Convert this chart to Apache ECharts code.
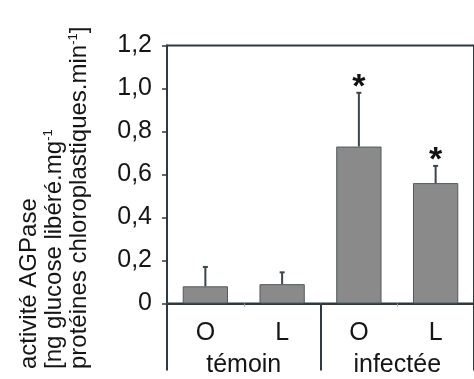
<!DOCTYPE html>
<html>
<head>
<meta charset="utf-8">
<script src="https://cdn.jsdelivr.net/npm/echarts@6/dist/echarts.min.js"></script>
<style>
html,body{margin:0;padding:0;background:#fff;}
#chart{width:474px;height:379px;}
</style>
</head>
<body>
<div id="chart"></div>
<script>
var categories = ['O', 'L', 'O', 'L'];
var groups = ['témoin', 'infectée'];
var means = [0.08, 0.09, 0.73, 0.56];
var errors = [0.09, 0.055, 0.25, 0.08];
var marks = ['', '', '*', '*'];
var yTickLabels = ['0', '0,2', '0,4', '0,6', '0,8', '1,0', '1,2'];

var FONT = "'Liberation Sans', Arial, Helvetica, sans-serif";
var INK = '#151515';
var AXIS = '#2e3a3f';

var chart = echarts.init(document.getElementById('chart'), null, {renderer: 'canvas'});

var errData = means.map(function (m, i) { return [i, m, m + errors[i], marks[i]]; });

chart.setOption({
  backgroundColor: '#ffffff',
  animation: false,
  textStyle: {fontFamily: FONT},
  grid: {
    left: 167, top: 45.5, right: -3, bottom: 75.5,
    show: true, borderColor: AXIS, borderWidth: 2, backgroundColor: 'transparent'
  },
  xAxis: [
    {
      type: 'category', data: categories, position: 'bottom',
      axisLine: {show: true, lineStyle: {color: AXIS, width: 2}},
      axisTick: {show: true, alignWithLabel: false, length: 3, lineStyle: {color: '#8fa3ad', width: 1}},
      axisLabel: {color: INK, fontSize: 25, fontFamily: FONT, margin: 17, interval: 0}
    },
    {
      type: 'category', data: groups, position: 'bottom',
      axisLine: {show: false},
      axisTick: {show: true, alignWithLabel: false, length: 67, lineStyle: {color: AXIS, width: 2}},
      axisLabel: {color: INK, fontSize: 25, fontFamily: FONT, margin: 49, interval: 0}
    }
  ],
  yAxis: {
    type: 'value', min: 0, max: 1.2, interval: 0.2,
    axisLine: {show: true, lineStyle: {color: AXIS, width: 2}},
    axisTick: {show: true, length: 5, lineStyle: {color: AXIS, width: 1.5}},
    splitLine: {show: false},
    axisLabel: {
      color: INK, fontSize: 25, fontFamily: FONT, margin: 15,
      formatter: function (v, idx) { return yTickLabels[idx]; }
    }
  },
  graphic: [{
    type: 'text',
    x: 17, y: 369,
    rotation: Math.PI / 2,
    style: {
      text: 'activité AGPase\n[ng glucose libéré.mg{sup|-1}\nprotéines chloroplastiques.min{sup|-1}]',
      font: '24px ' + FONT,
      fill: INK,
      align: 'left',
      verticalAlign: 'top',
      lineHeight: 25,
      rich: {
        sup: {fontSize: 13, fontFamily: FONT, fill: INK, verticalAlign: 'top', lineHeight: 25, padding: [0, 0, 10, 0]}
      }
    }
  }],
  series: [
    {
      type: 'bar', xAxisIndex: 0, data: means, barWidth: '59%',
      itemStyle: {color: '#8a8a8a', borderColor: '#4f5b60', borderWidth: 1}
    },
    {
      type: 'custom', xAxisIndex: 0, data: errData, z: 5,
      renderItem: function (params, api) {
        var x = api.coord([api.value(0), api.value(1)]);
        var top = api.coord([api.value(0), api.value(2)]);
        var children = [
          {type: 'line', shape: {x1: x[0], y1: x[1], x2: top[0], y2: top[1]}, style: {stroke: '#3a464b', lineWidth: 2}},
          {type: 'line', shape: {x1: top[0] - 2.5, y1: top[1], x2: top[0] + 2.5, y2: top[1]}, style: {stroke: '#3a464b', lineWidth: 2}}
        ];
        var m = errData[params.dataIndex][3];
        if (m) {
          children.push({type: 'text', x: top[0], y: top[1] - 5, style: {text: m, font: 'bold 34px ' + FONT, fill: '#111', align: 'center', verticalAlign: 'middle'}});
        }
        return {type: 'group', children: children};
      }
    }
  ]
});
</script>
</body>
</html>
